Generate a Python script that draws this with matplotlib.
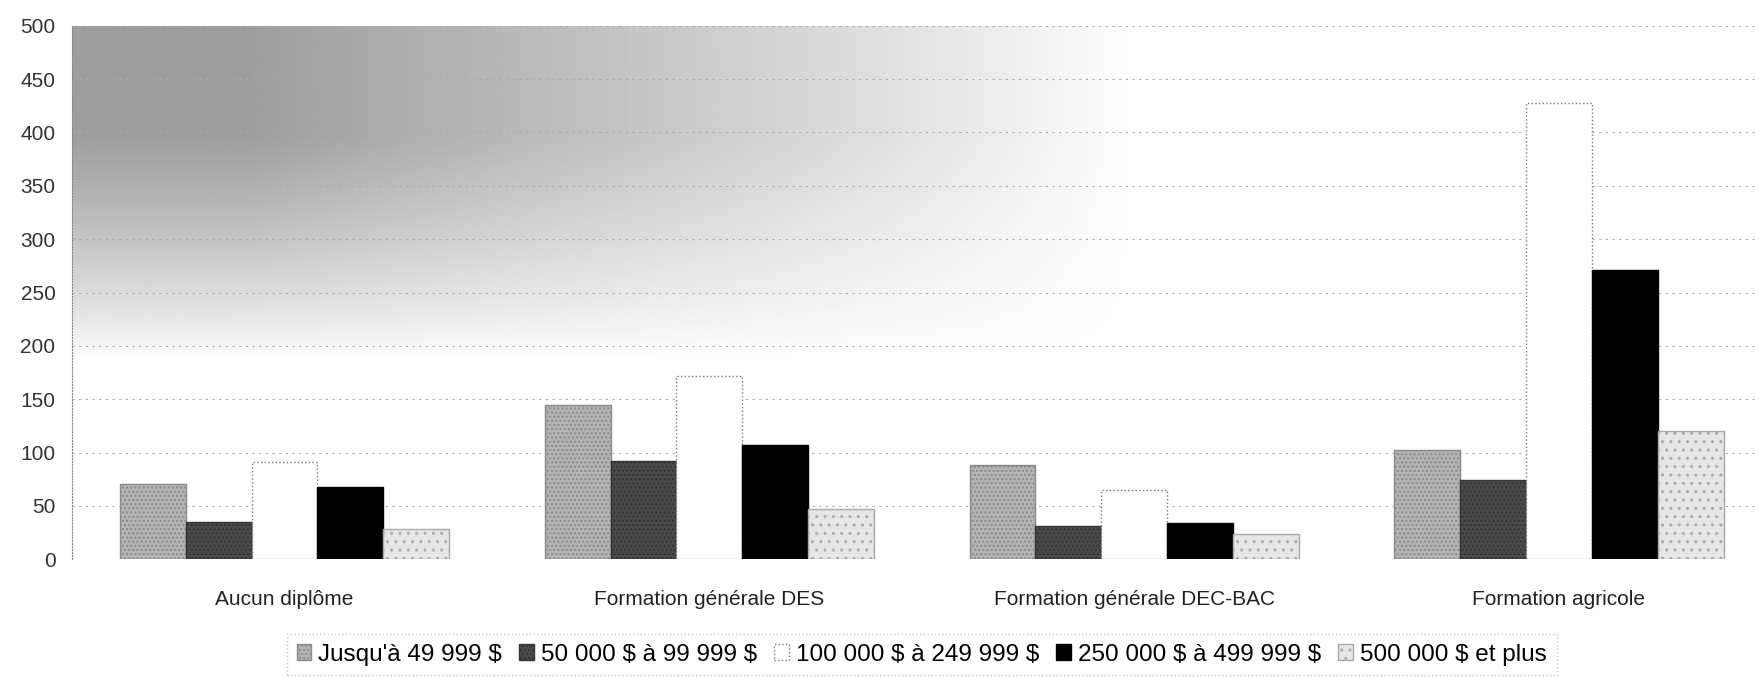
import numpy as np
import matplotlib.pyplot as plt

plt.rcParams['text.parse_math'] = False
plt.rcParams['font.family'] = ['Liberation Sans', 'DejaVu Sans']
plt.rcParams['hatch.color'] = '#666666'

categories = ['Aucun diplôme', 'Formation générale DES',
              'Formation générale DEC-BAC', 'Formation agricole']
series_labels = ["Jusqu'à 49 999 $", '50 000 $ à 99 999 $', '100 000 $ à 249 999 $',
                 '250 000 $ à 499 999 $', '500 000 $ et plus']
jusqua_49999 = [71, 145, 88, 102]
de_50000 = [35, 92, 31, 74]
de_100000 = [91, 172, 65, 428]
de_250000 = [68, 107, 34, 271]
plus_500000 = [28, 47, 24, 120]
y_ticks = list(range(0, 501, 50))

valeurs = [jusqua_49999, de_50000, de_100000, de_250000, plus_500000]
couleurs = ['#b4b4b4', '#4a4a4a', 'white', 'black', '#e6e6e6']
bords = ['#8a8a8a', '#333333', '#777777', 'black', '#aaaaaa']
hachures = ['....', '....', None, None, '..']

fig = plt.figure(figsize=(17.59, 6.78), dpi=100)
ax = fig.add_axes([0.041, 0.175, 0.966, 0.787])

# fond grisé (effet de numérisation en haut à gauche)
gx = np.linspace(0, 1, 400)
gy = np.linspace(0, 1, 200)
GX, GY = np.meshgrid(gx, gy)
fond = np.clip(1.2 - 1.2 * GX, 0, 1) ** 0.9 * np.clip(GY * 1.5, 0, 1) ** 0.8
ax.imshow(1 - 0.38 * fond, cmap='gray', vmin=0, vmax=1, origin='lower',
          extent=(-0.5, 2.0, 190, 500), aspect='auto', zorder=0)

x = np.arange(len(categories))
largeur = 0.155
for i, vals in enumerate(valeurs):
    pos = x + (i - 2) * largeur
    ax.bar(pos, vals, width=largeur, color=couleurs[i], edgecolor=bords[i],
           linewidth=1.0, linestyle=':' if i == 2 else '-', hatch=hachures[i],
           label=series_labels[i], zorder=3)

for t in y_ticks:
    ax.axhline(t, color='#aaaaaa', linestyle=(0, (2, 4)), linewidth=0.8, zorder=1)

ax.set_xlim(-0.5, 3.5)
ax.set_ylim(0, 500)
ax.set_yticks(y_ticks)
ax.set_xticks(x)
ax.set_xticklabels(categories, fontsize=15, color='#222222')
ax.tick_params(axis='y', labelsize=15, length=0, pad=12, labelcolor='#333333')
ax.tick_params(axis='x', length=0, pad=22)
for s in ['top', 'right', 'bottom']:
    ax.spines[s].set_visible(False)
ax.spines['left'].set_linestyle(':')
ax.spines['left'].set_color('#888888')

leg = fig.legend(loc='lower center', bbox_to_anchor=(0.524, -0.014), ncol=5,
                 fontsize=17.5, frameon=True, fancybox=False, handlelength=0.6,
                 handleheight=0.6, handletextpad=0.3, columnspacing=0.7,
                 borderpad=0.4)
leg.get_frame().set_edgecolor('#bbbbbb')
leg.get_frame().set_linestyle(':')

fig.savefig('out.png', dpi=100)
